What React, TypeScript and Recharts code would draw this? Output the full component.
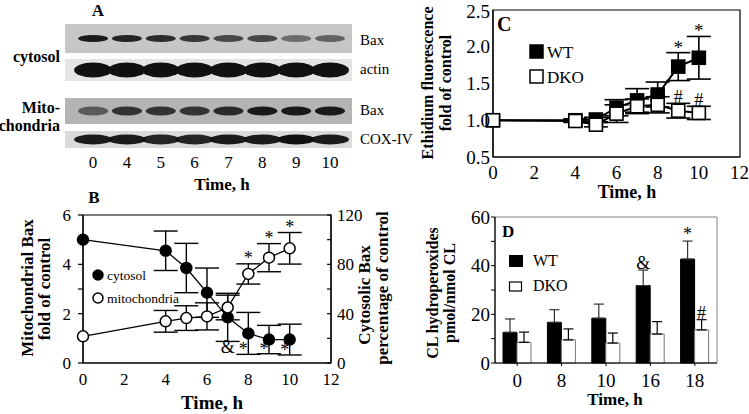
import React from 'react';
import {
  ComposedChart,
  Line,
  Scatter,
  Bar,
  XAxis,
  YAxis,
  ErrorBar,
  ReferenceArea,
  Legend,
  LabelList,
} from 'recharts';

const SERIF = '"Liberation Serif", "Times New Roman", Times, serif';

// ---------------- Panel A : western blot band intensities ----------------
const blotLanes = ['0', '4', '5', '6', '7', '8', '9', '10'];
const cytoBaxIntensity = [0.95, 0.9, 0.85, 0.8, 0.7, 0.7, 0.5, 0.55];
const actinIntensity = [1, 1, 1, 1, 1, 1, 1, 1];
const mitoBaxIntensity = [0.55, 0.8, 0.8, 0.8, 0.85, 0.95, 0.95, 0.95];
const coxIntensity = [0.95, 0.95, 0.9, 0.9, 0.95, 0.95, 1, 0.95];

// ---------------- Panel B ----------------
const timeB = [0, 4, 5, 6, 7, 8, 9, 10];
const cytosolBax = [100, 91, 77, 57, 37, 24, 19, 19];
const cytosolErr = [0, 16, 20, 20, 19.5, 17, 11.5, 12.5];
const mitoBax = [1.08, 1.69, 1.82, 1.89, 2.25, 3.61, 4.27, 4.65];
const mitoErr = [0, 0.44, 0.5, 0.55, 0.5, 0.41, 0.57, 0.64];
const cytosolMarks = ['', '', '', '', '&', '*', '*', '*'];
const mitoMarks = ['', '', '', '', '', '*', '*', '*'];
const legendB = ['cytosol', 'mitochondria'];

// ---------------- Panel C ----------------
const timeC = [0, 4, 5, 6, 7, 8, 9, 10];
const wtEthidium = [1.0, 1.0, 1.01, 1.17, 1.27, 1.35, 1.73, 1.85];
const wtEthErr = [0, 0.02, 0.03, 0.11, 0.16, 0.17, 0.19, 0.29];
const dkoEthidium = [1.0, 0.99, 0.94, 1.09, 1.19, 1.21, 1.13, 1.1];
const dkoEthErr = [0, 0.02, 0.03, 0.12, 0.1, 0.11, 0.1, 0.09];
const wtEthMarks = ['', '', '', '', '', '', '*', '*'];
const dkoEthMarks = ['', '', '', '', '', '', '#', '#'];
const legendCD = ['WT', 'DKO'];

// ---------------- Panel D ----------------
const timeD = ['0', '8', '10', '16', '18'];
const wtCL = [12.6, 16.7, 18.4, 31.8, 42.7];
const wtCLErr = [5.5, 5.2, 5.8, 6.4, 7.4];
const dkoCL = [8.5, 9.5, 8.2, 11.9, 13.6];
const dkoCLErr = [4.2, 4.5, 4.1, 5.1, 4.2];
const wtCLMarks = ['', '', '', '&', '*'];
const dkoCLMarks = ['', '', '', '', '#'];

// ---------------- derived tables ----------------
const blotRows = [
  { key: 'cytoBax', values: cytoBaxIntensity, y1: 0, y2: 29, bg: '#c6c6c6', rx: 15, ry: 3.5 },
  { key: 'actin', values: actinIntensity, y1: 35, y2: 57, bg: '#e4e4e4', rx: 19, ry: 7.5 },
  { key: 'mitoBax', values: mitoBaxIntensity, y1: 74, y2: 100, bg: '#b4b4b4', rx: 15, ry: 4.5 },
  { key: 'cox', values: coxIntensity, y1: 107, y2: 124, bg: '#dadada', rx: 19, ry: 5 },
];

const dataB = timeB.map((t, i) => ({
  t,
  cytosol: cytosolBax[i],
  cytosolErr: cytosolErr[i],
  mito: mitoBax[i],
  mitoErr: mitoErr[i],
}));
const marksBMito = timeB
  .map((t, i) => ({ t, y: mitoBax[i] + mitoErr[i], mark: mitoMarks[i] }))
  .filter((d) => d.mark);
const marksBCyto = timeB
  .map((t, i) => ({ t, y: cytosolBax[i] - cytosolErr[i], mark: cytosolMarks[i] }))
  .filter((d) => d.mark);

const dataC = timeC.map((t, i) => ({
  t,
  wt: wtEthidium[i],
  wtErr: wtEthErr[i],
  dko: dkoEthidium[i],
  dkoErr: dkoEthErr[i],
}));
const marksCWt = timeC
  .map((t, i) => ({ t, y: wtEthidium[i] + wtEthErr[i], mark: wtEthMarks[i] }))
  .filter((d) => d.mark);
const marksCDko = timeC
  .map((t, i) => ({ t, y: dkoEthidium[i] + dkoEthErr[i], mark: dkoEthMarks[i] }))
  .filter((d) => d.mark);

const dataD = timeD.map((time, i) => ({
  time,
  wt: wtCL[i],
  wtErr: [0, wtCLErr[i]],
  dko: dkoCL[i],
  dkoErr: [0, dkoCLErr[i]],
  wtTop: wtCL[i] + wtCLErr[i],
  dkoTop: dkoCL[i] + dkoCLErr[i],
  wtMark: wtCLMarks[i],
  dkoMark: dkoCLMarks[i],
}));

// ---------------- helpers ----------------
const tickStyle = (fontSize: number) => ({ fontSize, fill: '#000', fontFamily: SERIF });
const axisLine = { stroke: '#000', strokeWidth: 1.2 };

const circleDot = (filled: boolean) => (p: any) => (
  <circle
    key={`c-${p.index}`}
    cx={p.cx}
    cy={p.cy}
    r={5.5}
    fill={filled ? '#000' : '#fff'}
    stroke="#000"
    strokeWidth={1.5}
  />
);

const squareDot = (filled: boolean) => (p: any) => (
  <rect
    key={`s-${p.index}`}
    x={p.cx - 6.5}
    y={p.cy - 6.5}
    width={13}
    height={13}
    fill={filled ? '#000' : '#fff'}
    stroke="#000"
    strokeWidth={1.6}
  />
);

const markText = (dx: (m: string) => number, dy: (m: string) => number, fontSize: number) => (p: any) => (
  <text
    x={p.cx + dx(p.payload.mark)}
    y={p.cy + dy(p.payload.mark)}
    textAnchor="middle"
    fontSize={fontSize}
    fontFamily={SERIF}
    fill="#000"
  >
    {p.payload.mark}
  </text>
);

const barMark = (p: any) => {
  if (!p.value) return null;
  return (
    <text
      x={p.x + p.width / 2}
      y={p.y - 1}
      textAnchor="middle"
      fontSize={18}
      fontFamily={SERIF}
      fill="#000"
    >
      {p.value}
    </text>
  );
};

const LegendB = () => (
  <svg width={130} height={50} style={{ display: 'block' }}>
    <circle cx={10} cy={13} r={5} fill="#000" stroke="#000" strokeWidth={1.5} />
    <text x={19} y={18} fontSize={13.5} fontFamily={SERIF}>{legendB[0]}</text>
    <circle cx={10} cy={36} r={5} fill="#fff" stroke="#000" strokeWidth={1.5} />
    <text x={19} y={41} fontSize={13.5} fontFamily={SERIF}>{legendB[1]}</text>
  </svg>
);

const LegendC = () => (
  <svg width={90} height={50} style={{ display: 'block' }}>
    <rect x={2} y={6} width={13} height={13} fill="#000" stroke="#000" strokeWidth={1.5} />
    <text x={19} y={18.5} fontSize={17} fontFamily={SERIF}>{legendCD[0]}</text>
    <rect x={2} y={31} width={13} height={13} fill="#fff" stroke="#000" strokeWidth={1.5} />
    <text x={19} y={43.5} fontSize={17} fontFamily={SERIF}>{legendCD[1]}</text>
  </svg>
);

const LegendD = () => (
  <svg width={90} height={50} style={{ display: 'block' }}>
    <rect x={1} y={3} width={14} height={12} fill="#000" />
    <text x={25} y={14} fontSize={16} fontFamily={SERIF}>{legendCD[0]}</text>
    <rect x={1.5} y={30} width={12} height={9} fill="#fff" stroke="#000" strokeWidth={1.2} />
    <text x={25} y={39} fontSize={16} fontFamily={SERIF}>{legendCD[1]}</text>
  </svg>
);

const abs = (left: number, top: number): React.CSSProperties => ({ position: 'absolute', left, top });

export default function App() {
  return (
    <div
      style={{
        position: 'absolute',
        left: 0,
        top: 0,
        width: 749,
        height: 414,
        background: '#fff',
        fontFamily: SERIF,
        overflow: 'hidden',
      }}
    >
      {/* Panel A : blot */}
      <div style={abs(0, 0)}>
        <ComposedChart width={380} height={195} margin={{ top: 24, right: 28, bottom: 0, left: 65 }}>
          <XAxis
            dataKey="lane"
            type="number"
            domain={[-0.83, 7.65]}
            ticks={[0, 1, 2, 3, 4, 5, 6, 7]}
            tickFormatter={(i: number) => blotLanes[i] ?? ''}
            height={47}
            axisLine={false}
            tickLine={false}
            tickSize={0}
            tickMargin={8}
            tick={tickStyle(17)}
            allowDataOverflow
          />
          <YAxis type="number" dataKey="pos" domain={[0, 124]} reversed hide allowDataOverflow />
          {blotRows.map((r) => (
            <ReferenceArea
              key={`bg-${r.key}`}
              x1={-0.83}
              x2={7.65}
              y1={r.y1}
              y2={r.y2}
              fill={r.bg}
              fillOpacity={1}
              stroke="none"
              ifOverflow="visible"
            />
          ))}
          {blotRows.map((r) => (
            <Scatter
              key={`band-${r.key}`}
              data={r.values.map((v, i) => ({ lane: i, pos: (r.y1 + r.y2) / 2, v }))}
              dataKey="pos"
              isAnimationActive={false}
              shape={(p: any) => (
                <ellipse
                  cx={p.cx}
                  cy={p.cy}
                  rx={r.rx}
                  ry={r.ry}
                  fill="#111"
                  fillOpacity={p.payload.v}
                />
              )}
            />
          ))}
        </ComposedChart>
      </div>

      {/* Panel B */}
      <div style={abs(0, 195)}>
        <ComposedChart width={400} height={219} data={dataB} margin={{ top: 20, right: 0, bottom: 0, left: 0 }}>
          <ReferenceArea yAxisId="left" y1={0} y2={6} fill="none" stroke="#000" strokeWidth={1.2} ifOverflow="visible" />
          <XAxis
            dataKey="t"
            type="number"
            domain={[0, 12]}
            ticks={[0, 2, 4, 6, 8, 10, 12]}
            height={51}
            tickSize={0}
            tickMargin={10}
            tickLine={false}
            axisLine={axisLine}
            tick={tickStyle(17)}
          />
          <YAxis
            yAxisId="left"
            domain={[0, 6]}
            ticks={[0, 1, 2, 3, 4, 5, 6]}
            tickFormatter={(v: number) => (v % 2 === 0 ? String(v) : '')}
            width={83}
            tickSize={5}
            tickMargin={7}
            axisLine={axisLine}
            tickLine={{ stroke: '#000', strokeWidth: 1.2 }}
            tick={tickStyle(17)}
          />
          <YAxis
            yAxisId="right"
            orientation="right"
            domain={[0, 120]}
            ticks={[0, 20, 40, 60, 80, 100, 120]}
            tickFormatter={(v: number) => (v % 40 === 0 ? String(v) : '')}
            width={69}
            tickSize={-4}
            tickMargin={10}
            axisLine={axisLine}
            tickLine={{ stroke: '#000', strokeWidth: 1.2 }}
            tick={tickStyle(17)}
          />
          <Line
            yAxisId="right"
            dataKey="cytosol"
            name={legendB[0]}
            stroke="#000"
            strokeWidth={1.3}
            dot={circleDot(true)}
            isAnimationActive={false}
          >
            <ErrorBar dataKey="cytosolErr" width={12} stroke="#000" strokeWidth={1.4} />
          </Line>
          <Line
            yAxisId="left"
            dataKey="mito"
            name={legendB[1]}
            stroke="#000"
            strokeWidth={1.3}
            dot={circleDot(false)}
            isAnimationActive={false}
          >
            <ErrorBar dataKey="mitoErr" width={12} stroke="#000" strokeWidth={1.4} />
          </Line>
          <Scatter
            yAxisId="left"
            data={marksBMito}
            dataKey="y"
            legendType="none"
            isAnimationActive={false}
            shape={markText(() => 0, () => 0, 18)}
          />
          <Scatter
            yAxisId="right"
            data={marksBCyto}
            dataKey="y"
            legendType="none"
            isAnimationActive={false}
            shape={markText((m) => (m === '&' ? 0 : -5), (m) => (m === '&' ? 12 : 1), 18)}
          />
          <Legend
            layout="horizontal"
            verticalAlign="middle"
            align="center"
            content={() => <LegendB />}
            wrapperStyle={{ left: 88, top: 67, width: 130, height: 50 }}
          />
        </ComposedChart>
      </div>

      {/* Panel C */}
      <div style={abs(380, 0)}>
        <ComposedChart width={369} height={200} data={dataC} margin={{ top: 10, right: 9, bottom: 0, left: 0 }}>
          <ReferenceArea y1={0.5} y2={2.5} fill="none" stroke="#000" strokeWidth={1.2} ifOverflow="visible" />
          <XAxis
            dataKey="t"
            type="number"
            domain={[0, 12]}
            ticks={[0, 2, 4, 6, 8, 10, 12]}
            height={43}
            tickSize={0}
            tickMargin={9}
            tickLine={false}
            axisLine={axisLine}
            tick={tickStyle(19)}
          />
          <YAxis
            domain={[0.5, 2.5]}
            ticks={[0.5, 1, 1.5, 2, 2.5]}
            tickFormatter={(v: number) => v.toFixed(1)}
            width={113}
            tickSize={0}
            tickMargin={3}
            tickLine={false}
            axisLine={axisLine}
            tick={tickStyle(19)}
          />
          <Line
            dataKey="wt"
            name={legendCD[0]}
            stroke="#000"
            strokeWidth={2}
            dot={squareDot(true)}
            isAnimationActive={false}
          >
            <ErrorBar dataKey="wtErr" width={12} stroke="#000" strokeWidth={1.6} />
          </Line>
          <Line
            dataKey="dko"
            name={legendCD[1]}
            stroke="#000"
            strokeWidth={2}
            dot={squareDot(false)}
            isAnimationActive={false}
          >
            <ErrorBar dataKey="dkoErr" width={12} stroke="#000" strokeWidth={1.6} />
          </Line>
          <Scatter
            data={marksCWt}
            dataKey="y"
            legendType="none"
            isAnimationActive={false}
            shape={markText(() => 0, () => 1, 19)}
          />
          <Scatter
            data={marksCDko}
            dataKey="y"
            legendType="none"
            isAnimationActive={false}
            shape={markText(() => 0, () => 0, 18)}
          />
          <Legend
            layout="horizontal"
            verticalAlign="middle"
            align="center"
            content={() => <LegendC />}
            wrapperStyle={{ left: 148, top: 39, width: 90, height: 50 }}
          />
        </ComposedChart>
      </div>

      {/* Panel D */}
      <div style={abs(380, 200)}>
        <ComposedChart
          width={369}
          height={214}
          data={dataD}
          margin={{ top: 17, right: 32, bottom: 0, left: 0 }}
          barGap={0}
          barCategoryGap="18%"
        >
          <ReferenceArea y1={0} y2={60} fill="none" stroke="#808080" strokeWidth={1} ifOverflow="visible" />
          <XAxis
            dataKey="time"
            height={51}
            tickSize={3}
            tickMargin={8}
            tickLine={{ stroke: '#000', strokeWidth: 1 }}
            axisLine={axisLine}
            tick={tickStyle(19)}
          />
          <XAxis xAxisId="marks" dataKey="time" hide />
          <YAxis
            domain={[0, 60]}
            ticks={[0, 10, 20, 30, 40, 50, 60]}
            tickFormatter={(v: number) => (v % 20 === 0 ? String(v) : '')}
            width={115}
            tickSize={4}
            tickMargin={1}
            axisLine={axisLine}
            tickLine={{ stroke: '#000', strokeWidth: 1 }}
            tick={tickStyle(19)}
          />
          <Bar dataKey="wt" name={legendCD[0]} fill="#000" stroke="#000" barSize={14} isAnimationActive={false}>
            <ErrorBar dataKey="wtErr" width={5} stroke="#333" strokeWidth={1.2} />
          </Bar>
          <Bar dataKey="dko" name={legendCD[1]} fill="#fff" stroke="#777" strokeWidth={1} barSize={14} isAnimationActive={false}>
            <ErrorBar dataKey="dkoErr" width={5} stroke="#000" strokeWidth={1.2} />
          </Bar>
          <Bar xAxisId="marks" dataKey="wtTop" fill="none" stroke="none" barSize={14} legendType="none" isAnimationActive={false}>
            <LabelList dataKey="wtMark" content={barMark} />
          </Bar>
          <Bar xAxisId="marks" dataKey="dkoTop" fill="none" stroke="none" barSize={14} legendType="none" isAnimationActive={false}>
            <LabelList dataKey="dkoMark" content={barMark} />
          </Bar>
          <Legend
            layout="horizontal"
            verticalAlign="middle"
            align="center"
            content={() => <LegendD />}
            wrapperStyle={{ left: 128, top: 52, width: 90, height: 50 }}
          />
        </ComposedChart>
      </div>

      {/* Titles and labels */}
      <svg
        width={749}
        height={414}
        style={{ position: 'absolute', left: 0, top: 0, pointerEvents: 'none' }}
        fontFamily={SERIF}
      >
        {/* Panel A */}
        <text x={98} y={16} textAnchor="middle" fontSize={17} fontWeight="bold">A</text>
        <text x={60} y={62} textAnchor="end" fontSize={16} fontWeight="bold">cytosol</text>
        <text x={60} y={113} textAnchor="end" fontSize={16} fontWeight="bold">Mito-</text>
        <text x={60} y={131} textAnchor="end" fontSize={16} fontWeight="bold">chondria</text>
        <text x={360} y={45} fontSize={15}>Bax</text>
        <text x={360} y={74} fontSize={15}>actin</text>
        <text x={360} y={115} fontSize={15}>Bax</text>
        <text x={360} y={144} fontSize={15}>COX-IV</text>
        <text x={222} y={190} textAnchor="middle" fontSize={17} fontWeight="bold">Time, h</text>

        {/* Panel B */}
        <text x={94} y={203} textAnchor="middle" fontSize={17} fontWeight="bold">B</text>
        <text transform="translate(33,288) rotate(-90)" textAnchor="middle" fontSize={17} fontWeight="bold">Mitochondrial Bax</text>
        <text transform="translate(49.5,289) rotate(-90)" textAnchor="middle" fontSize={17} fontWeight="bold">fold of control</text>
        <text transform="translate(370,295) rotate(-90)" textAnchor="middle" fontSize={17} fontWeight="bold">Cytosolic Bax</text>
        <text transform="translate(388,288) rotate(-90)" textAnchor="middle" fontSize={17} fontWeight="bold">percentage of control</text>
        <text x={212} y={409} textAnchor="middle" fontSize={19} fontWeight="bold">Time, h</text>

        {/* Panel C */}
        <text x={497} y={31} fontSize={20} fontWeight="bold">C</text>
        <text transform="translate(433,83) rotate(-90)" textAnchor="middle" fontSize={16} fontWeight="bold">Ethidium fluorescence</text>
        <text transform="translate(451,83) rotate(-90)" textAnchor="middle" fontSize={16} fontWeight="bold">fold of control</text>
        <text x={627} y={198} textAnchor="middle" fontSize={18} fontWeight="bold">Time, h</text>

        {/* Panel D */}
        <text x={502} y={237} fontSize={17} fontWeight="bold">D</text>
        <text transform="translate(438,293) rotate(-90)" textAnchor="middle" fontSize={16} fontWeight="bold">CL hydroperoxides</text>
        <text transform="translate(455,293) rotate(-90)" textAnchor="middle" fontSize={16} fontWeight="bold">pmol/nmol CL</text>
        <text x={615} y={405} textAnchor="middle" fontSize={17} fontWeight="bold">Time, h</text>
      </svg>
    </div>
  );
}
